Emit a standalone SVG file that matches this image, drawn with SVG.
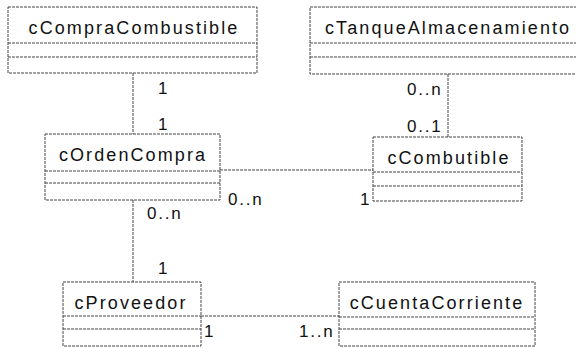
<svg xmlns="http://www.w3.org/2000/svg" width="576" height="348" viewBox="0 0 576 348">
<style>
.box{fill:#fff;stroke:#444;stroke-width:1;stroke-dasharray:3 1}
.ln{stroke:#444;stroke-width:1;stroke-dasharray:3 1;fill:none}
.t{font-family:"Liberation Sans",Arial,sans-serif;font-size:18px;fill:#111;letter-spacing:2.1px}
.c{text-anchor:middle}
.lb{font-family:"Liberation Sans",Arial,sans-serif;font-size:17px;fill:#111;letter-spacing:1.8px}
</style>
<rect width="576" height="348" fill="#fff"/>
<g id="connectors">
<line class="ln" x1="133" y1="73" x2="133" y2="134"/>
<line class="ln" x1="448" y1="74" x2="448" y2="137"/>
<line class="ln" x1="220" y1="170" x2="373" y2="170"/>
<line class="ln" x1="133" y1="200" x2="133" y2="282"/>
<line class="ln" x1="201" y1="316" x2="339" y2="316"/>
<text class="lb" x="158" y="94">1</text>
<text class="lb" x="158" y="130">1</text>
<text class="lb" x="407" y="95">0..n</text>
<text class="lb" x="407" y="132">0..1</text>
<text class="lb" x="228" y="205">0..n</text>
<text class="lb" x="147" y="219">0..n</text>
<text class="lb" x="360" y="205">1</text>
<text class="lb" x="158" y="274">1</text>
<text class="lb" x="204" y="337">1</text>
<text class="lb" x="299" y="337">1..n</text>
</g>
<g id="cCompraCombustible">
<rect class="box" x="8" y="7" width="249" height="66"/>
<line class="ln" x1="8" y1="43" x2="257" y2="43"/>
<line class="ln" x1="8" y1="57" x2="257" y2="57"/>
<text class="t c" x="134" y="34">cCompraCombustible</text>
</g>
<g id="cTanqueAlmacenamiento">
<rect class="box" x="310" y="7" width="275" height="67"/>
<line class="ln" x1="310" y1="43" x2="576" y2="43"/>
<line class="ln" x1="310" y1="57" x2="576" y2="57"/>
<text class="t" x="325" y="34">cTanqueAlmacenamiento</text>
</g>
<g id="cOrdenCompra">
<rect class="box" x="45" y="134" width="175" height="66"/>
<line class="ln" x1="45" y1="171" x2="220" y2="171"/>
<line class="ln" x1="45" y1="183" x2="220" y2="183"/>
<text class="t c" x="133" y="161">cOrdenCompra</text>
</g>
<g id="cCombutible">
<rect class="box" x="373" y="137" width="149" height="64"/>
<line class="ln" x1="373" y1="172" x2="522" y2="172"/>
<line class="ln" x1="373" y1="186" x2="522" y2="186"/>
<text class="t c" x="449" y="164">cCombutible</text>
</g>
<g id="cProveedor">
<rect class="box" x="63" y="282" width="138" height="64"/>
<line class="ln" x1="63" y1="316" x2="201" y2="316"/>
<line class="ln" x1="63" y1="329" x2="201" y2="329"/>
<text class="t c" x="131" y="309">cProveedor</text>
</g>
<g id="cCuentaCorriente">
<rect class="box" x="339" y="282" width="196" height="64"/>
<line class="ln" x1="339" y1="317" x2="535" y2="317"/>
<line class="ln" x1="339" y1="329" x2="535" y2="329"/>
<text class="t c" x="437" y="309">cCuentaCorriente</text>
</g>
</svg>
